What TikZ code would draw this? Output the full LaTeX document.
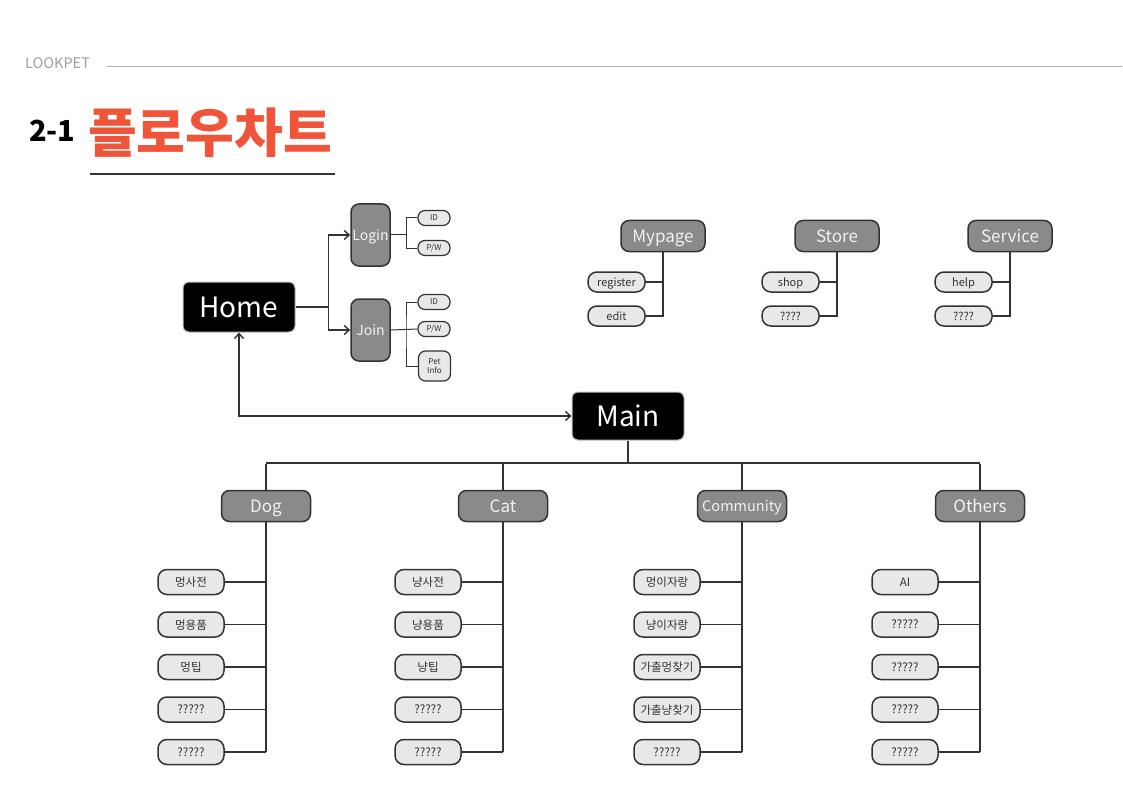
\documentclass[tikz,border=0pt]{standalone}
\usepackage{fontspec}
\setmainfont{Noto Sans CJK KR}
\usetikzlibrary{arrows.meta}
\definecolor{inkline}{HTML}{333333}
\definecolor{titlered}{HTML}{F0553A}
\definecolor{boxgray}{HTML}{8A8A8A}
\definecolor{leafgray}{HTML}{E8E8E8}
\definecolor{softgray}{HTML}{9E9E9E}
\definecolor{softtext}{HTML}{F2F2F2}

\begin{document}
\begin{tikzpicture}[x=1pt,y=-1pt,
  conn/.style={draw=inkline,line width=1.4pt},
  rootbox/.style={fill=black,draw=gray!50,line width=1pt,rounded corners=6pt,text=white,font=\fontsize{28}{30}\selectfont,minimum width=112pt,minimum height=50pt,inner sep=0pt},
  groupbox/.style={fill=boxgray,draw=inkline,line width=1.5pt,rounded corners=8pt,text=softtext,font=\fontsize{17}{19}\selectfont,minimum width=88pt,minimum height=31pt,inner sep=0pt,text depth=0pt},
  tallbox/.style={groupbox,minimum width=39pt,minimum height=62pt,font=\fontsize{14}{16}\selectfont},
  leafbox/.style={fill=leafgray,draw=inkline,line width=1.5pt,rounded corners=9pt,text=inkline,font=\fontsize{11.5}{13}\selectfont,minimum width=66pt,minimum height=25pt,inner sep=0pt,text depth=0pt},
  tinybox/.style={fill=leafgray,draw=inkline,line width=1.2pt,rounded corners=7pt,text=inkline,font=\fontsize{8}{8.5}\selectfont,minimum width=32pt,minimum height=15pt,inner sep=0pt,align=center},
  midbox/.style={leafbox,rounded corners=9pt,minimum width=57pt,minimum height=20pt,font=\fontsize{11}{13}\selectfont}]
\useasboundingbox (0,0) rectangle (1123,794);
% page header and title
\node[anchor=west,text=softgray,font=\fontsize{14.5}{16}\selectfont,inner sep=0pt] (brand) at (25,63) {LOOKPET};
\coordinate (ruleend) at (1122,66);
\draw[softgray!80,line width=.8pt] (107,66) -- (ruleend);
\node[anchor=west,font=\fontsize{29}{31}\selectfont\bfseries,inner sep=0pt] (secno) at (29,131) {2-1};
\node[anchor=west,text=titlered,font=\fontsize{53}{56}\selectfont\bfseries,inner sep=0pt] (title) at (88,133) {플로우차트};
\draw[inkline,line width=2pt] (90,174) -- (335,174);
% entry: home, login and join
\node[rootbox] (home) at (239,307) {Home};
\node[tallbox] (login) at (370.5,235) {Login};
\node[tallbox] (join) at (370.5,330) {Join};
\draw[conn] (home.east) -- ++(33,0) coordinate (hsplit);
\draw[conn,-{Straight Barb[length=5pt,width=9pt]}] (hsplit) |- (login.west);
\draw[conn,-{Straight Barb[length=5pt,width=9pt]}] (hsplit) |- (join.west);
\node[tinybox] (loginid) at (434,218) {ID};
\node[tinybox] (loginpw) at (434,248) {P/W};
\node[tinybox] (joinid) at (434,302) {ID};
\node[tinybox] (joinpw) at (434,329) {P/W};
\node[tinybox,minimum height=30pt] (joinpet) at (434.5,366) {Pet\\Info};
\draw[conn,line width=1pt] (login.east) -- ++(16,0) coordinate (lsplit);
\draw[conn,line width=1pt] (loginid.west) -| (lsplit) |- (loginpw.west);
\draw[conn,line width=1pt] (join.east) -- (joinpw.west);
\coordinate (jsplit) at (406,330);
\draw[conn,line width=1pt] (joinid.west) -| (jsplit) |- (joinpet.west);
% top right menu groups
\foreach \gx/\gname/\gtitle/\first/\second in {663/mypage/Mypage/register/edit,837/store/Store/shop/????,1010/service/Service/help/????}{
  \node[groupbox,minimum width=84pt] (\gname) at (\gx,236) {\gtitle};
  \node[midbox] (\gname-a) at (\gx-46.5,282) {\first};
  \node[midbox] (\gname-b) at (\gx-46.5,316) {\second};
  \draw[conn] (\gname.south) -- (\gname.south |- \gname-b.east) -- (\gname-b.east);
  \draw[conn] (\gname-a.east) -- (\gname-a.east -| \gname.south);
}
% main and its four sections
\node[rootbox,minimum height=48pt] (main) at (628,416) {Main};
\draw[conn,{Straight Barb[length=5pt,width=9pt]}-{Straight Barb[length=5pt,width=9pt]}] (home.south) |- (main.west);
\draw[conn] (main.south) -- ++(0,23) coordinate (mainbar);
\draw[conn] (266,463) -- (980,463);
\foreach \cx/\cname/\ctitle/\csize/\labels in {266/dog/Dog/17/{멍사전,멍용품,멍팁,?????,?????},503/cat/Cat/17/{냥사전,냥용품,냥팁,?????,?????},742/community/Community/14.5/{멍이자랑,냥이자랑,가출멍찾기,가출냥찾기,?????},980/others/Others/17/{AI,?????,?????,?????,?????}}{
  \node[groupbox,minimum width=89pt,font=\fontsize{\csize}{19}\selectfont] (\cname) at (\cx,506) {\ctitle};
  \draw[conn] (\cname.north) -- (\cname.north |- mainbar);
  \foreach \lab [count=\i] in \labels{
    \node[leafbox] (\cname-leaf\i) at (\cx-75,{582+42.5*(\i-1)}) {\lab};
    \draw[conn] (\cname-leaf\i.east) -- (\cname-leaf\i.east -| \cname.south);
  }
  \draw[conn] (\cname.south) -- (\cname.south |- \cname-leaf5.east);
}
\end{tikzpicture}
\end{document}
